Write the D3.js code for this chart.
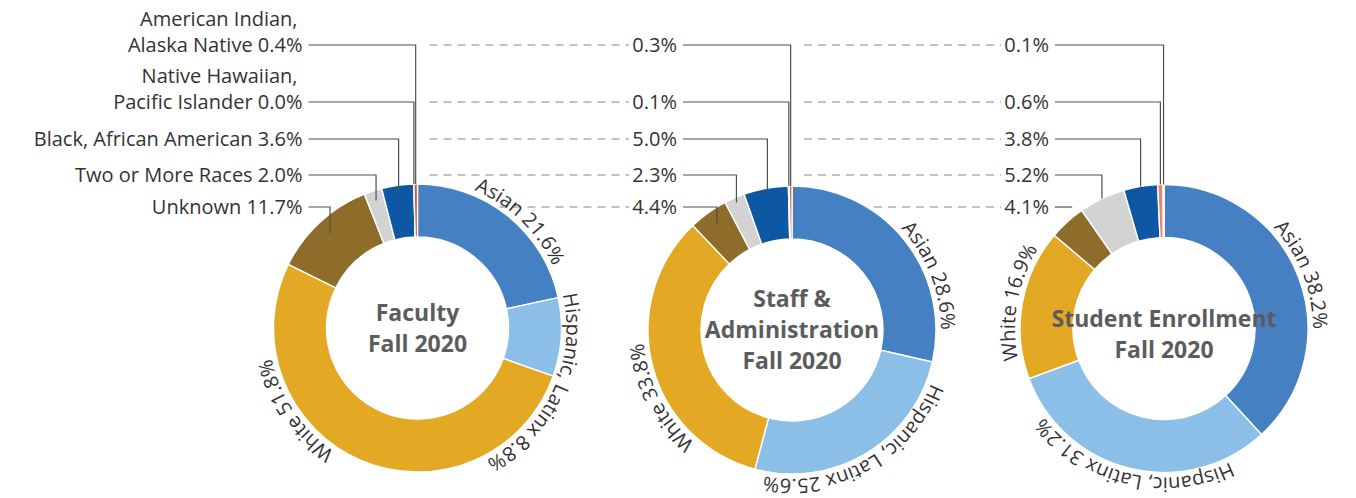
<!DOCTYPE html>
<html>
<head>
<meta charset="utf-8">
<script src="https://cdn.jsdelivr.net/npm/d3@7"></script>
<style>
  html, body { margin: 0; padding: 0; background: #ffffff; }
  svg { display: block; }
  text { font-family: "Open Sans", "Noto Sans", sans-serif; }
</style>
</head>
<body>
<svg id="chart" width="1356" height="498"></svg>
<script>
// Race / ethnicity breakdown, Fall 2020 (percent), slices clockwise from 12 o'clock
const categories = [
  "Asian",
  "Hispanic, Latinx",
  "White",
  "Unknown",
  "Two or More Races",
  "Black, African American",
  "Native Hawaiian,\nPacific Islander",
  "American Indian,\nAlaska Native"
];
const facultyValues = [21.6, 8.8, 51.8, 11.7, 2.0, 3.6, 0.0, 0.4];
const staffValues   = [28.6, 25.6, 33.8, 4.4, 2.3, 5.0, 0.1, 0.3];
const studentValues = [38.2, 31.2, 16.9, 4.1, 5.2, 3.8, 0.6, 0.1];

const facultyTitle = ["Faculty", "Fall 2020"];
const staffTitle   = ["Staff &", "Administration", "Fall 2020"];
const studentTitle = ["Student Enrollment", "Fall 2020"];

const sliceColors = ["#4580c2", "#8cbfe7", "#e4a924", "#8e6d2a", "#d3d3d3", "#0e57a3", "#e8876c", "#e3522b"];

// Drawing layout
const layout = {
  centers: [[417.5, 328], [792, 330], [1164, 328.5]],
  inner: 91,
  outer: 144,
  rowY: [45, 102, 139, 175, 207],     // leader rows, top to bottom
  labelGap: 115,                      // label right edge, left of donut centre
  titleShift: [0, 0, 6],
  curvedShift: [[5, 21, 33], [17, 2, -13], [0, 0, 0]],   // degrees from slice middle
  leaderInset: [[0, 0, 7, 10, 15], [0, 0, 8, 5, 15], [0, 0, 0, 0, -1]]
};

const charts = [
  { values: facultyValues, title: facultyTitle, names: true },
  { values: staffValues,   title: staffTitle,   names: false },
  { values: studentValues, title: studentTitle, names: false }
];

const svg = d3.select("#chart");
const fmt = v => v.toFixed(1) + "%";
const pie = d3.pie().sort(null).value(d => d);
const arc = d3.arc().innerRadius(layout.inner).outerRadius(layout.outer);

// Dashed guides joining the small-group rows between neighbouring donuts
const guides = svg.append("g").attr("class", "guides");
for (let i = 1; i < charts.length; i++) {
  const x1 = layout.centers[i - 1][0] + 12;
  const x2 = layout.centers[i][0] - layout.labelGap - 48;
  layout.rowY.forEach(y => {
    guides.append("line")
      .attr("x1", x1).attr("x2", x2)
      .attr("y1", y).attr("y2", y)
      .attr("stroke", "#afafaf")
      .attr("stroke-width", 1.3)
      .attr("stroke-dasharray", "8 6");
  });
}

// Small groups, in row order (top row first)
const smallGroups = [7, 6, 5, 4, 3];

charts.forEach((chart, ci) => {
  const [cx, cy] = layout.centers[ci];
  const g = svg.append("g").attr("transform", `translate(${cx},${cy})`);
  const arcs = pie(chart.values);

  g.selectAll("path.slice")
    .data(arcs)
    .join("path")
    .attr("class", "slice")
    .attr("d", arc)
    .attr("fill", (d, i) => sliceColors[i])
    .attr("stroke", "#ffffff")
    .attr("stroke-width", 1.4)
    .attr("stroke-linejoin", "round");

  // Curved labels for the three largest groups
  const rText = layout.outer + 5;
  const pathId = "ring" + ci;
  g.append("path")
    .attr("id", pathId)
    .attr("d", `M0,${-rText} A${rText},${rText} 0 1 1 0,${rText} A${rText},${rText} 0 1 1 0,${-rText}`)
    .attr("fill", "none");
  const circ = 2 * Math.PI * rText;
  [0, 1, 2].forEach((k, j) => {
    const a = arcs[k];
    const midDeg = ((a.startAngle + a.endAngle) / 2) * 180 / Math.PI + layout.curvedShift[ci][j];
    g.append("text")
      .attr("font-size", 20)
      .attr("fill", "#333333")
      .append("textPath")
      .attr("href", "#" + pathId)
      .attr("startOffset", (midDeg / 360) * circ)
      .attr("text-anchor", "middle")
      .text(categories[k].replace("\n", " ") + " " + fmt(chart.values[k]));
  });

  // Leader lines and labels for the small groups
  const labelX = cx - layout.labelGap;
  smallGroups.forEach((k, row) => {
    const a = arcs[k];
    const mid = (a.startAngle + a.endAngle) / 2;
    const y0 = layout.rowY[row];
    const inset = layout.leaderInset[ci][row];
    let d;
    if (inset < 0) {
      const xe = cx + layout.outer * Math.sin(mid) + 5;
      d = `M${labelX + 6},${y0} H${xe}`;
    } else {
      const r = layout.outer - inset;
      const xe = cx + r * Math.sin(mid);
      const ye = cy - r * Math.cos(mid);
      d = `M${labelX + 6},${y0} H${xe} V${ye}`;
    }
    svg.append("path")
      .attr("d", d)
      .attr("fill", "none")
      .attr("stroke", "#4f4f4f")
      .attr("stroke-width", 1.2);

    const lines = chart.names
      ? (categories[k] + " " + fmt(chart.values[k])).split("\n")
      : [fmt(chart.values[k])];
    const t = svg.append("text")
      .attr("font-size", 20)
      .attr("fill", "#333333")
      .attr("text-anchor", "end");
    lines.forEach((ln, li) => {
      const last = li === lines.length - 1;
      t.append("tspan")
        .attr("x", last ? labelX : labelX - 5)
        .attr("y", y0 + 7 - (lines.length - 1 - li) * 26)
        .text(ln);
    });
  });

  // Centre title
  const n = chart.title.length;
  const lineH = 31;
  const title = g.append("text")
    .attr("text-anchor", "middle")
    .attr("font-size", 23)
    .attr("font-weight", 700)
    .attr("fill", "#5c5c5c");
  chart.title.forEach((ln, i) => {
    title.append("tspan")
      .attr("x", 0)
      .attr("y", layout.titleShift[ci] - (n - 1) * lineH / 2 + 8 + i * lineH)
      .text(ln);
  });
});
</script>
</body>
</html>
